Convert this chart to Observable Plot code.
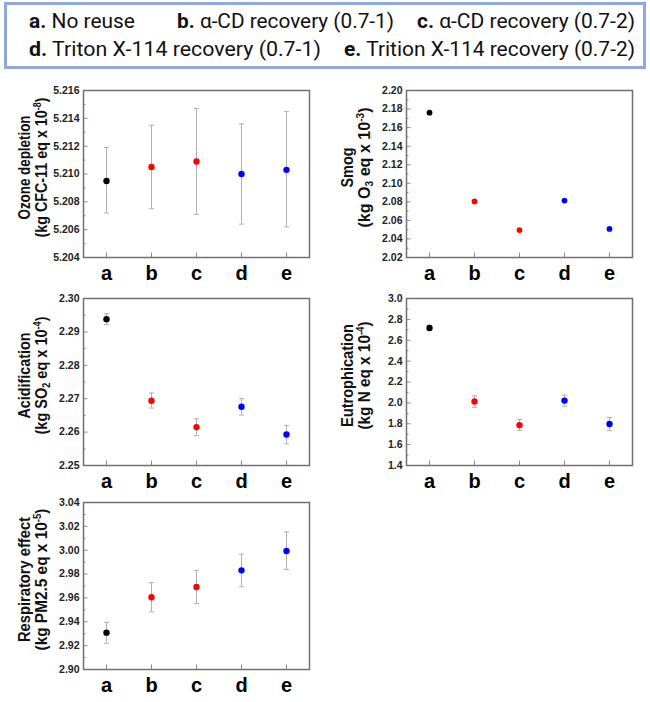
<!DOCTYPE html>
<html><head><meta charset="utf-8">
<script src="https://cdn.jsdelivr.net/npm/d3@7"></script>
<script src="https://cdn.jsdelivr.net/npm/@observablehq/plot@0.6"></script>
<style>
body{margin:0;background:#fff;}
#root{position:relative;width:650px;height:702px;overflow:hidden;font-family:"Liberation Sans",Arial,sans-serif;}
#root > svg{position:absolute;}
</style></head><body><div id="root"></div>
<script>
// ---------- data ----------
const categories = ["a", "b", "c", "d", "e"];
const groupColors = ["#000000", "#ff0000", "#ff0000", "#0000ff", "#0000ff"];

const legendKeys = ["a.", "b.", "c.", "d.", "e."];
const legendNames = ["No reuse", "α-CD recovery (0.7-1)", "α-CD recovery (0.7-2)",
                     "Triton X-114 recovery (0.7-1)", "Trition X-114 recovery (0.7-2)"];

const ozoneValues = [5.2095, 5.2105, 5.2109, 5.2100, 5.2103];
const ozoneLow    = [5.2072, 5.2075, 5.2071, 5.2064, 5.2062];
const ozoneHigh   = [5.2119, 5.2135, 5.2147, 5.2136, 5.2145];
const ozoneTicks  = [5.204, 5.206, 5.208, 5.210, 5.212, 5.214, 5.216];

const smogValues = [2.1761, 2.0804, 2.0496, 2.0814, 2.0508];
const smogLow    = [2.1756, 2.0799, 2.0491, 2.0809, 2.0503];
const smogHigh   = [2.1766, 2.0809, 2.0501, 2.0819, 2.0513];
const smogTicks  = [2.02, 2.04, 2.06, 2.08, 2.10, 2.12, 2.14, 2.16, 2.18, 2.20];

const acidValues = [2.2938, 2.2694, 2.2615, 2.2676, 2.2593];
const acidLow    = [2.2922, 2.2672, 2.2590, 2.2651, 2.2565];
const acidHigh   = [2.2954, 2.2717, 2.2640, 2.2700, 2.2620];
const acidTicks  = [2.25, 2.26, 2.27, 2.28, 2.29, 2.30];

const eutroValues = [2.718, 2.013, 1.787, 2.022, 1.797];
const eutroLow    = [2.693, 1.958, 1.736, 1.968, 1.733];
const eutroHigh   = [2.744, 2.067, 1.840, 2.074, 1.861];
const eutroTicks  = [1.4, 1.6, 1.8, 2.0, 2.2, 2.4, 2.6, 2.8, 3.0];

const respValues = [2.9309, 2.9606, 2.9692, 2.9831, 2.9994];
const respLow    = [2.9220, 2.9484, 2.9553, 2.9694, 2.9839];
const respHigh   = [2.9395, 2.9728, 2.9831, 2.9967, 3.0153];
const respTicks  = [2.90, 2.92, 2.94, 2.96, 2.98, 3.00, 3.02, 3.04];

// ---------- layout ----------
const root = document.getElementById("root");
const FONT = "'Liberation Sans', Arial, sans-serif";

// horizontal cap symbol for error bars
const capSymbol = {
  draw(context, size) {
    const h = Math.sqrt(size / Math.PI);
    context.moveTo(-h, 0);
    context.lineTo(h, 0);
  }
};

// legend
(function legend(){
  const xs = [29, 177, 417, 29, 344];
  const ws = [106, 217, 218, 292, 291];
  const rows = [0, 0, 0, 1, 1];
  const svg = d3.create("svg").attr("width", 650).attr("height", 74)
    .style("left", "0px").style("top", "0px");
  svg.append("rect").attr("x", 5.5).attr("y", 3.5).attr("width", 639).attr("height", 64)
    .attr("fill", "none").attr("stroke", "#8eaadb").attr("stroke-width", 3);
  legendKeys.forEach((k, i) => {
    const t = svg.append("text").attr("x", xs[i]).attr("y", rows[i] ? 56 : 28)
      .attr("font-family", "Roboto, 'Noto Sans', sans-serif").attr("font-size", 19.5)
      .attr("fill", "#111").attr("textLength", ws[i]).attr("lengthAdjust", "spacingAndGlyphs");
    t.append("tspan").attr("font-weight", "bold").text(k);
    t.append("tspan").text(" " + legendNames[i]);
  });
  root.appendChild(svg.node());
})();

function addTitle(svg, lines, lengths, cy) {
  const g = d3.select(svg).append("g").attr("font-family", FONT).attr("font-weight", "bold")
    .attr("font-size", 16).attr("fill", "#111");
  lines.forEach((parts, i) => {
    const x = i === 0 ? 30 : 46.5;
    const t = g.append("text").attr("transform", `translate(${x},${cy}) rotate(-90)`)
      .attr("text-anchor", "middle")
      .attr("textLength", lengths[i]).attr("lengthAdjust", "spacingAndGlyphs");
    let off = 0;
    parts.forEach(([s, kind]) => {
      const ts = t.append("tspan").text(s);
      let target = 0;
      if (kind === "sup") { target = -6; ts.attr("font-size", 10); }
      if (kind === "sub") { target = 3; ts.attr("font-size", 10); }
      if (target !== off) ts.attr("dy", target - off);
      off = target;
    });
  });
}

function panel(cfg) {
  const W = 325, H = 212, ml = 83, mr = 16, mt = 14, mb = 31;
  const innerW = W - ml - mr, innerH = H - mt - mb;
  const data = categories.map((c, i) => ({cat: c, v: cfg.values[i], lo: cfg.low[i], hi: cfg.high[i], color: groupColors[i]}));
  const minor = [];
  for (let i = 0; i < cfg.ticks.length - 1; i++) minor.push((cfg.ticks[i] + cfg.ticks[i + 1]) / 2);
  const tickStroke = "#8c8c8c", errStroke = "#b0b0b0";
  const svg = Plot.plot({
    width: W, height: H, marginLeft: ml, marginRight: mr, marginTop: mt, marginBottom: mb,
    style: {fontFamily: FONT, background: "transparent", overflow: "visible"},
    color: {type: "identity"},
    x: {type: "point", domain: categories, padding: 0.49, label: null},
    y: {domain: [cfg.ticks[0], cfg.ticks[cfg.ticks.length - 1]], label: null},
    marks: [
      Plot.tickY(minor, {y: d => d, insetRight: innerW - 2.5, stroke: tickStroke}),
      Plot.tickY(cfg.ticks, {y: d => d, insetRight: innerW - 4.5, stroke: tickStroke}),
      Plot.tickX(categories, {x: d => d, insetTop: innerH - 4.5, stroke: tickStroke}),
      Plot.ruleX(data, {x: "cat", y1: "lo", y2: "hi", stroke: errStroke, strokeWidth: 1}),
      Plot.dot(data, {x: "cat", y: "lo", symbol: capSymbol, r: 2.5, stroke: errStroke, fill: "none", strokeWidth: 1}),
      Plot.dot(data, {x: "cat", y: "hi", symbol: capSymbol, r: 2.5, stroke: errStroke, fill: "none", strokeWidth: 1}),
      Plot.dot(data, {x: "cat", y: "v", r: cfg.r || 3.2, fill: "color", stroke: null}),
      Plot.frame({stroke: "#707070", strokeWidth: 1.5}),
      Plot.axisY({ticks: cfg.ticks, tickFormat: d3.format(cfg.fmt), tickSize: 0, tickPadding: 4,
        fontSize: 10.5, fontWeight: "bold", fill: "#222", label: null}),
      Plot.axisX({tickSize: 0, tickPadding: 8, fontSize: 20, fontWeight: "bold", fill: "#000", label: null})
    ]
  });
  addTitle(svg, cfg.title, cfg.titleLen, mt + innerH / 2 - 6);
  svg.style.left = cfg.left + "px";
  svg.style.top = cfg.top + "px";
  root.appendChild(svg);
}

panel({left: 0, top: 75.5, values: ozoneValues, low: ozoneLow, high: ozoneHigh, ticks: ozoneTicks, fmt: ".3f",
  titleLen: [104, 140],
  title: [[["Ozone depletion", ""]], [["(kg CFC-11 eq x 10", ""], ["-8", "sup"], [")", ""]]]});
panel({left: 322.5, top: 75.7, values: smogValues, low: smogLow, high: smogHigh, ticks: smogTicks, fmt: ".2f", r: 2.9,
  titleLen: [40, 120],
  title: [[["Smog", ""]], [["(kg O", ""], ["3", "sub"], [" eq x 10", ""], ["-3", "sup"], [")", ""]]]});
panel({left: 0, top: 284, values: acidValues, low: acidLow, high: acidHigh, ticks: acidTicks, fmt: ".2f",
  titleLen: [86, 118],
  title: [[["Acidification", ""]], [["(kg SO", ""], ["2", "sub"], [" eq x 10", ""], ["-4", "sup"], [")", ""]]]});
panel({left: 322.5, top: 284, values: eutroValues, low: eutroLow, high: eutroHigh, ticks: eutroTicks, fmt: ".1f",
  titleLen: [103, 108],
  title: [[["Eutrophication", ""]], [["(kg N eq x 10", ""], ["-4", "sup"], [")", ""]]]});
panel({left: 0, top: 487.7, values: respValues, low: respLow, high: respHigh, ticks: respTicks, fmt: ".2f",
  titleLen: [125, 142],
  title: [[["Respiratory effect", ""]], [["(kg PM2.5 eq x 10", ""], ["-5", "sup"], [")", ""]]]});
</script></body></html>
